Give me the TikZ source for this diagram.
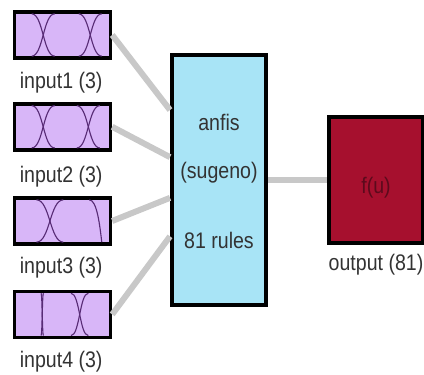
\documentclass[tikz,border=0pt]{standalone}
\usepackage{fontspec}
\setmainfont{Liberation Sans}[FakeStretch=0.87]
\usepackage{tikz}
\usepackage{xcolor}
\usetikzlibrary{arrows.meta,shapes}
\definecolor{mflilac}{RGB}{216,182,248}
\definecolor{mfpurple}{RGB}{88,44,118}
\definecolor{anfiscyan}{RGB}{168,228,246}
\definecolor{outred}{RGB}{166,16,46}
\definecolor{fudark}{RGB}{92,10,28}
\definecolor{linkgray}{RGB}{200,200,200}
\newcommand{\mfcross}[2]{%
\draw[mf](#1-#2,0.96)..controls(#1,0.96)and(#1,0.04)..(#1+#2,0.04);
\draw[mf](#1-#2,0.04)..controls(#1,0.04)and(#1,0.96)..(#1+#2,0.96);}

\begin{document}
\begin{tikzpicture}[inbox/.style={draw,line width=0.09cm,fill=mflilac,minimum width=2.4cm,minimum height=1.15cm},
lbl/.style={font=\fontsize{16}{18}\selectfont,text=black!80},
mf/.style={mfpurple,line width=0.8pt},
link/.style={linkgray,line width=0.15cm}]
\useasboundingbox(0,0)rectangle(10.6,9.35);
\node[inbox](in1)at(1.56,8.475){};
\node[inbox](in2)at(1.56,6.18){};
\node[inbox](in3)at(1.56,3.825){};
\node[inbox](in4)at(1.56,1.49){};
\node[lbl](l1)at(1.53,7.275){input1 (3)};
\node[lbl](l2)at(1.53,4.925){input2 (3)};
\node[lbl](l3)at(1.53,2.65){input3 (3)};
\node[lbl](l4)at(1.53,0.3){input4 (3)};
\begin{scope}[shift={(in1.center)},xshift=-1.2cm,yshift=-0.575cm,x=2.4cm,y=1.15cm]
\mfcross{0.3}{0.12}\mfcross{0.79}{0.12}
\end{scope}
\begin{scope}[shift={(in2.center)},xshift=-1.2cm,yshift=-0.575cm,x=2.4cm,y=1.15cm]
\mfcross{0.3}{0.12}\mfcross{0.77}{0.12}
\end{scope}
\begin{scope}[shift={(in3.center)},xshift=-1.2cm,yshift=-0.575cm,x=2.4cm,y=1.15cm]
\mfcross{0.37}{0.14}
\draw[mf](0.78,0.96)..controls(0.86,0.96)and(0.89,0.4)..(0.91,0.04);
\end{scope}
\begin{scope}[shift={(in4.center)},xshift=-1.2cm,yshift=-0.575cm,x=2.4cm,y=1.15cm]
\mfcross{0.29}{0.012}\mfcross{0.68}{0.09}
\end{scope}
\node[draw,line width=0.09cm,fill=anfiscyan,minimum width=2.36cm,minimum height=6.26cm](anfis)at(5.475,4.85){};
\node[lbl](t1)at(5.475,6.3){anfis};
\node[lbl](t2)at(5.475,5.025){(sugeno)};
\node[lbl](t3)at(5.475,3.35){81 rules};
\node[draw,line width=0.09cm,fill=outred,minimum width=2.36cm,minimum height=3.16cm](out)at(9.4,4.85){};
\node[lbl,text=fudark](fu)at(9.4,4.65){f(u)};
\node[lbl](lo)at(9.4,2.725){output (81)};
\draw[link](in1.east)--(anfis.125);
\draw[link](in2.east)--(anfis.155);
\draw[link](in3.east)--(anfis.200);
\draw[link](in4.east)--(anfis.229);
\draw[link](anfis.east)--(out.west);
\end{tikzpicture}
\end{document}
